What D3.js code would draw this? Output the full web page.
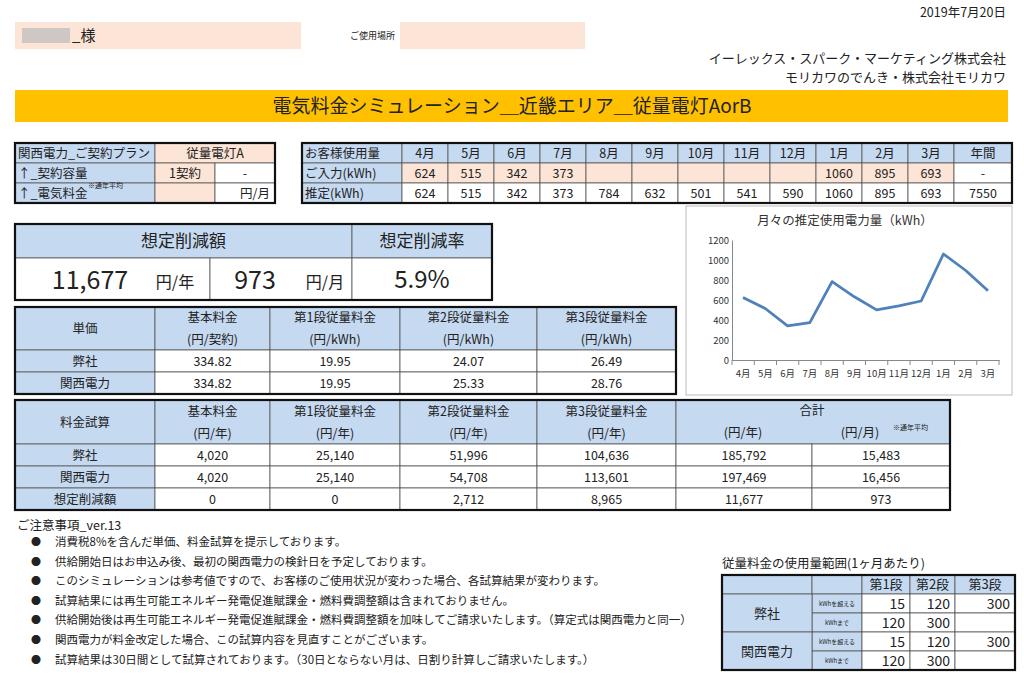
<!DOCTYPE html>
<html><head><meta charset="utf-8">
<script src="https://cdn.jsdelivr.net/npm/d3@7/dist/d3.min.js"></script>
<style>body{margin:0;background:#fff}svg{font-family:"Noto Sans CJK JP",sans-serif}</style>
</head><body><svg id="c" width="1024" height="684"></svg>
<script>
// ---- data ----
const months=["4月","5月","6月","7月","8月","9月","10月","11月","12月","1月","2月","3月"];
const inputKWh=["624","515","342","373","","","","","","1060","895","693","-"];
const estKWh=[624,515,342,373,784,632,501,541,590,1060,895,693];
const estTotal="7550";
const chartTicks=[0,200,400,600,800,1000,1200];
const priceHead=[["単価",""],["基本料金","(円/契約)"],["第1段従量料金","(円/kWh)"],["第2段従量料金","(円/kWh)"],["第3段従量料金","(円/kWh)"]];
const priceOurs=["弊社","334.82","19.95","24.07","26.49"];
const priceKansai=["関西電力","334.82","19.95","25.33","28.76"];
const chargeHead=[["料金試算",""],["基本料金","(円/年)"],["第1段従量料金","(円/年)"],["第2段従量料金","(円/年)"],["第3段従量料金","(円/年)"]];
const chargeOurs=["弊社","4,020","25,140","51,996","104,636","185,792","15,483"];
const chargeKansai=["関西電力","4,020","25,140","54,708","113,601","197,469","16,456"];
const chargeSave=["想定削減額","0","0","2,712","8,965","11,677","973"];
const notes=["消費税8%を含んだ単価、料金試算を提示しております。","供給開始日はお申込み後、最初の関西電力の検針日を予定しております。","このシミュレーションは参考値ですので、お客様のご使用状況が変わった場合、各試算結果が変わります。","試算結果には再生可能エネルギー発電促進賦課金・燃料費調整額は含まれておりません。","供給開始後は再生可能エネルギー発電促進賦課金・燃料費調整額を加味してご請求いたします。（算定式は関西電力と同一）","関西電力が料金改定した場合、この試算内容を見直すことがございます。","試算結果は30日間として試算されております。（30日とならない月は、日割り計算しご請求いたします。）"];
const rangeHead=["","","第1段","第2段","第3段"];
const rangeRows=[["弊社","kWhを超える","15","120","300"],["","kWhまで","120","300",""],["関西電力","kWhを超える","15","120","300"],["","kWhまで","120","300",""]];

const BLUE="#C5D9F1",PEACH="#FCE4D6";
const svg=d3.select("#c");
function cell(x,y,w,h,fill,text,o={}){
  const g=svg.append("g");
  g.append("rect").attr("x",x).attr("y",y).attr("width",w).attr("height",h).attr("fill",fill||"#fff").attr("stroke",o.stroke||"#555").attr("stroke-width",o.sw||0.8);
  if(text!==undefined&&text!==""){
    const lines=Array.isArray(text)?text:[text];
    const a=o.align||"middle";
    const tx=a==="start"?x+3:a==="end"?x+w-5:x+w/2;
    lines.forEach((t,i)=>{ if(t==="")return;
      g.append("text").attr("x",tx).attr("y",y+h/2+(i-(lines.length-1)/2)*(o.lh||22)).attr("dy","0.36em")
       .attr("text-anchor",a).attr("font-size",o.fs||12.5).attr("fill","#222").text(t);});
  }
  return g;
}
function outline(x,y,w,h,sw){svg.append("rect").attr("x",x).attr("y",y).attr("width",w).attr("height",h).attr("fill","none").attr("stroke","#111").attr("stroke-width",sw||2.2);}
function txt(x,y,t,fs,anchor,fill){return svg.append("text").attr("x",x).attr("y",y).attr("font-size",fs).attr("text-anchor",anchor||"start").attr("fill",fill||"#222").text(t);}

// header
txt(1006,17,"2019年7月20日",12.5,"end");
svg.append("rect").attr("x",15).attr("y",22).attr("width",286).attr("height",27).attr("fill",PEACH);
svg.append("rect").attr("x",22).attr("y",28).attr("width",48).attr("height",15).attr("fill","#bbb").attr("opacity",0.7);
txt(72,41,"_様",15);
txt(350,39,"ご使用場所",9);
svg.append("rect").attr("x",400).attr("y",22).attr("width",185).attr("height",27).attr("fill",PEACH);
txt(1006,63,"イーレックス・スパーク・マーケティング株式会社",13,"end");
txt(1006,82,"モリカワのでんき・株式会社モリカワ",13,"end");
svg.append("rect").attr("x",15).attr("y",90).attr("width",993).attr("height",32).attr("fill","#FFC000");
txt(512,113,"電気料金シミュレーション＿近畿エリア＿従量電灯AorB",19,"middle");

// table 1
cell(15,143,140,20,BLUE,"関西電力_ご契約プラン",{align:"start"});
cell(155,143,120,20,PEACH,"従量電灯A");
cell(15,163,140,20,BLUE,"↑_契約容量",{align:"start"});
cell(155,163,60,20,PEACH,"1契約");cell(215,163,60,20,"#fff","-");
cell(15,183,140,20,BLUE,"↑_電気料金",{align:"start"});
txt(88,188,"※通年平均",7);
cell(155,183,60,20,PEACH,"");cell(215,183,60,20,"#fff","円/月",{align:"end"});
outline(15,143,260,60);

// table 2
const cw=46,c0=402;
cell(302,143,100,20,BLUE,"お客様使用量",{align:"start"});
cell(302,163,100,20,BLUE,"ご入力(kWh)",{align:"start"});
cell(302,183,100,20,BLUE,"推定(kWh)",{align:"start"});
months.concat(["年間"]).forEach((m,i)=>{
  const x=c0+i*cw,w=i<12?cw:1012-x;
  cell(x,143,w,20,BLUE,m);
  cell(x,163,w,20,i<12?PEACH:"#fff",inputKWh[i]);
  cell(x,183,w,20,"#fff",i<12?String(estKWh[i]):estTotal);
});
outline(302,143,710,60);

// savings
cell(15,224,337,34,BLUE,"想定削減額",{fs:17});
cell(352,224,140,34,BLUE,"想定削減率",{fs:17});
cell(15,258,195,42,"#fff","");cell(210,258,142,42,"#fff","");cell(352,258,140,42,"#fff","5.9%",{fs:24});
txt(90,289,"11,677",25,"middle");txt(175,288,"円/年",16,"middle");
txt(255,289,"973",25,"middle");txt(325,288,"円/月",16,"middle");
outline(15,224,477,76);

// price table
const pc=[15,155,270,400,537,676];
priceHead.forEach((h,i)=>cell(pc[i],307,pc[i+1]-pc[i],43,BLUE,h[1]?h:h[0]));
[priceOurs,priceKansai].forEach((r,j)=>r.forEach((v,i)=>cell(pc[i],350+j*22,pc[i+1]-pc[i],22,i===0?BLUE:"#fff",v)));
outline(15,307,661,87);

// charge table
const cc=[15,155,270,400,537,676,812,950];
chargeHead.forEach((h,i)=>cell(cc[i],400,cc[i+1]-cc[i],44,BLUE,h[1]?h:h[0]));
cell(676,400,274,44,BLUE,"");
txt(812,415,"合計",12.5,"middle");txt(743,437,"(円/年)",12.5,"middle");txt(860,437,"(円/月)",12.5,"middle");txt(893,430,"※通年平均",7);
[chargeOurs,chargeKansai,chargeSave].forEach((r,j)=>r.forEach((v,i)=>cell(cc[i],444+j*22,cc[i+1]-cc[i],22,i===0?BLUE:"#fff",v)));
outline(15,400,935,110);

// notes
txt(17,530,"ご注意事項_ver.13",12.5);
notes.forEach((n,i)=>{const y=546+i*19.6;txt(36,y,"●",10,"middle");txt(55,y,n,11.5);});

// range table
txt(722,568,"従量料金の使用量範囲(1ヶ月あたり)",12.5);
const rc=[722,812,862,910,955,1015];
rangeHead.forEach((h,i)=>cell(rc[i],575,rc[i+1]-rc[i],19,BLUE,h,{fs:13}));
rangeRows.forEach((r,j)=>r.forEach((v,i)=>{ if(i===0)return;
  cell(rc[i],594+j*19,rc[i+1]-rc[i],19,i===1?BLUE:"#fff",v,{fs:i===1?6:14,align:i>1?"end":"middle"});}));
cell(722,594,90,38,BLUE,"弊社",{fs:13});cell(722,632,90,38,BLUE,"関西電力",{fs:13});
outline(722,575,293,95);

// chart
svg.append("rect").attr("x",686).attr("y",206).attr("width",326).attr("height",189).attr("fill","#fff").attr("stroke","#bbb");
txt(845,225,"月々の推定使用電力量（kWh）",12.5,"middle","#333");
const x=d3.scalePoint().domain(months).range([743,988]);
const xb=d3.scaleBand().domain(months).range([732,999]);
const y=d3.scaleLinear().domain([0,1200]).range([360,240]);
const ya=svg.append("g").attr("transform","translate(732,0)").call(d3.axisLeft(y).tickValues(chartTicks).tickSize(0).tickFormat(d3.format("d")));
ya.select(".domain").attr("stroke","#888");ya.selectAll("text").attr("font-size",9.5).attr("fill","#333").attr("font-family","Noto Sans CJK JP");
const xa=svg.append("g").attr("transform","translate(0,360)").call(d3.axisBottom(xb).tickSizeOuter(0).tickSize(0));
xa.select(".domain").attr("stroke","#888");xa.selectAll("text").attr("font-size",9.5).attr("fill","#333").attr("dy","1.5em").attr("font-family","Noto Sans CJK JP");
svg.append("g").selectAll("line").data(months.concat([""])).join("line").attr("x1",(d,i)=>732+i*xb.step()).attr("x2",(d,i)=>732+i*xb.step()).attr("y1",360).attr("y2",365).attr("stroke","#888");
svg.append("path").datum(estKWh).attr("fill","none").attr("stroke","#4F81BD").attr("stroke-width",2.8).attr("stroke-linejoin","round")
 .attr("d",d3.line().x((d,i)=>x(months[i])).y(d=>y(d)));
</script></body></html>
